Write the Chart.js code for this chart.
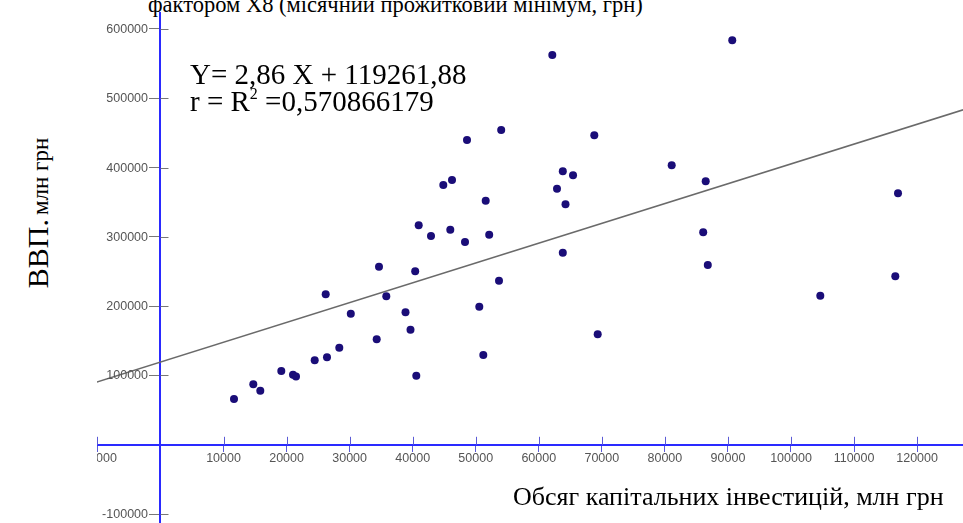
<!DOCTYPE html>
<html>
<head>
<meta charset="utf-8">
<script src="https://cdn.jsdelivr.net/npm/chart.js@4.4.1/dist/chart.umd.min.js"></script>
<style>
    html, body { margin: 0; padding: 0; background: #fff; width: 963px; height: 523px; overflow: hidden; }
    body { position: relative; }
    #wrap { position: absolute; left: 97px; top: 12px; width: 866px; height: 511px; }
    .t { position: absolute; font-family: 'Liberation Serif', 'Times New Roman', serif; color: #000; white-space: nowrap; }
</style>
</head>
<body>
<div class="t" style="left:148px; top:-10px; font-size:22.5px; line-height:30px;">фактором Х8 (місячний прожитковий мінімум, грн)</div>
<div id="wrap"><canvas id="chart"></canvas></div>
<div class="t" style="left:190px; top:60px; font-size:29px; line-height:29px;">Y= 2,86 X + 119261,88</div>
<div class="t" style="left:190px; top:87px; font-size:29px; line-height:29px;">r = R<span style="font-size:16px; position:relative; top:-12px;">2</span> =0,570866179</div>
<div class="t" style="left:513px; top:484px; font-size:26px; line-height:26px;">Обсяг капітальних інвестицій, млн грн</div>
<div class="t" style="left:38px; top:213px; transform: translate(-50%, -50%) rotate(-90deg);"><span style="font-size:30px;">ВВП.</span> <span style="font-size:23px;">млн грн</span></div>

<script>
// обсяг капітальних інвестицій (x) та ВВП (y)
const xValues = [11657, 14718, 15829, 19159, 21015, 21491, 24457, 26407, 28358, 26201,
    30182, 34290, 34655, 35813, 38858, 39651, 40396, 40571, 40952, 42902,
    44853, 46233, 45963, 48295, 48612, 50563, 51197, 51578, 52133, 53688,
    54036, 62141, 62887, 63806, 64235, 65430, 63806, 68802, 69342, 81078,
    86471, 86075, 86804, 90682, 104647, 116971, 116543];
const yValues = [66090, 87302, 78066, 106494, 101154, 98557, 121934, 126263, 140115, 217172,
    189177, 152381, 256854, 214286, 191198, 165945, 250361, 99711, 316739, 301299,
    374892, 382107, 310390, 292641, 439827, 199278, 129582, 352237, 303175, 236652,
    454257, 562482, 369408, 394805, 347042, 388889, 277201, 446609, 159452, 403319,
    380375, 306638, 259452, 583694, 215152, 362915, 243146];

// лінія тренду: кінці
const trendX = [-10100, 127300];
const trendY = [90400, 483400];

const xTicks = [-10000, 10000, 20000, 30000, 40000, 50000, 60000, 70000, 80000, 90000, 100000, 110000, 120000];
const yTicks = [-100000, 100000, 200000, 300000, 400000, 500000, 600000];

const xMin = -10071, xMax = 127280;
const yMin = -112843, yMax = 624531;

const tickFont = { family: 'Liberation Sans', size: 12.5 };

// риски з іншого боку осей і підписи осі Y ліворуч від рисок
const crossTicks = {
    id: 'crossTicks',
    afterDraw(chart) {
        const ctx = chart.ctx;
        const sx = chart.scales.x, sy = chart.scales.y;
        const x0 = sx.getPixelForValue(0), y0 = sy.getPixelForValue(0);
        ctx.save();
        ctx.lineWidth = 1;
        ctx.strokeStyle = '#5b5bd6';
        xTicks.forEach(v => {
            const px = Math.round(sx.getPixelForValue(v)) + 0.5;
            ctx.beginPath(); ctx.moveTo(px, y0 - 8); ctx.lineTo(px, y0); ctx.stroke();
        });
        ctx.strokeStyle = '#777';
        ctx.fillStyle = '#555';
        ctx.font = tickFont.size + 'px ' + tickFont.family;
        ctx.textAlign = 'right';
        ctx.textBaseline = 'middle';
        yTicks.forEach(v => {
            const py = Math.round(sy.getPixelForValue(v)) + 0.5;
            ctx.beginPath(); ctx.moveTo(x0, py); ctx.lineTo(x0 + 8, py); ctx.stroke();
            ctx.fillText(String(v), x0 - 12.5, py);
        });
        ctx.restore();
    }
};

new Chart(document.getElementById('chart'), {
    type: 'scatter',
    data: {
        datasets: [
            {
                data: trendX.map((x, i) => ({ x: x, y: trendY[i] })),
                showLine: true,
                borderColor: '#6a6a6a',
                borderWidth: 1.5,
                pointRadius: 0,
                order: 2
            },
            {
                data: xValues.map((x, i) => ({ x: x, y: yValues[i] })),
                backgroundColor: '#1a0d78',
                borderColor: '#1a0d78',
                borderWidth: 0,
                pointRadius: 4,
                order: 1
            }
        ]
    },
    options: {
        responsive: true,
        maintainAspectRatio: false,
        animation: false,
        layout: { padding: 0, autoPadding: false },
        plugins: { legend: { display: false }, tooltip: { enabled: false } },
        scales: {
            x: {
                type: 'linear',
                min: xMin, max: xMax,
                position: { y: 0 },
                afterBuildTicks: s => { s.ticks = xTicks.map(v => ({ value: v })); },
                afterFit: s => { s.paddingLeft = 0; s.paddingRight = 0; },
                grid: { drawOnChartArea: false, drawTicks: true, tickLength: 6, tickColor: '#5b5bd6' },
                border: { display: true, color: '#2a2aff', width: 2 },
                ticks: { padding: 0, color: '#555', font: tickFont, maxRotation: 0, autoSkip: false, callback: v => String(v) }
            },
            y: {
                type: 'linear',
                min: yMin, max: yMax,
                position: { x: 0 },
                afterBuildTicks: s => { s.ticks = yTicks.map(v => ({ value: v })); },
                afterFit: s => { s.paddingTop = 0; s.paddingBottom = 0; },
                grid: { drawOnChartArea: false, drawTicks: true, tickLength: 10, tickColor: '#777' },
                border: { display: true, color: '#2a2aff', width: 2 },
                ticks: { display: false }
            }
        }
    },
    plugins: [crossTicks]
});
</script>
</body>
</html>
